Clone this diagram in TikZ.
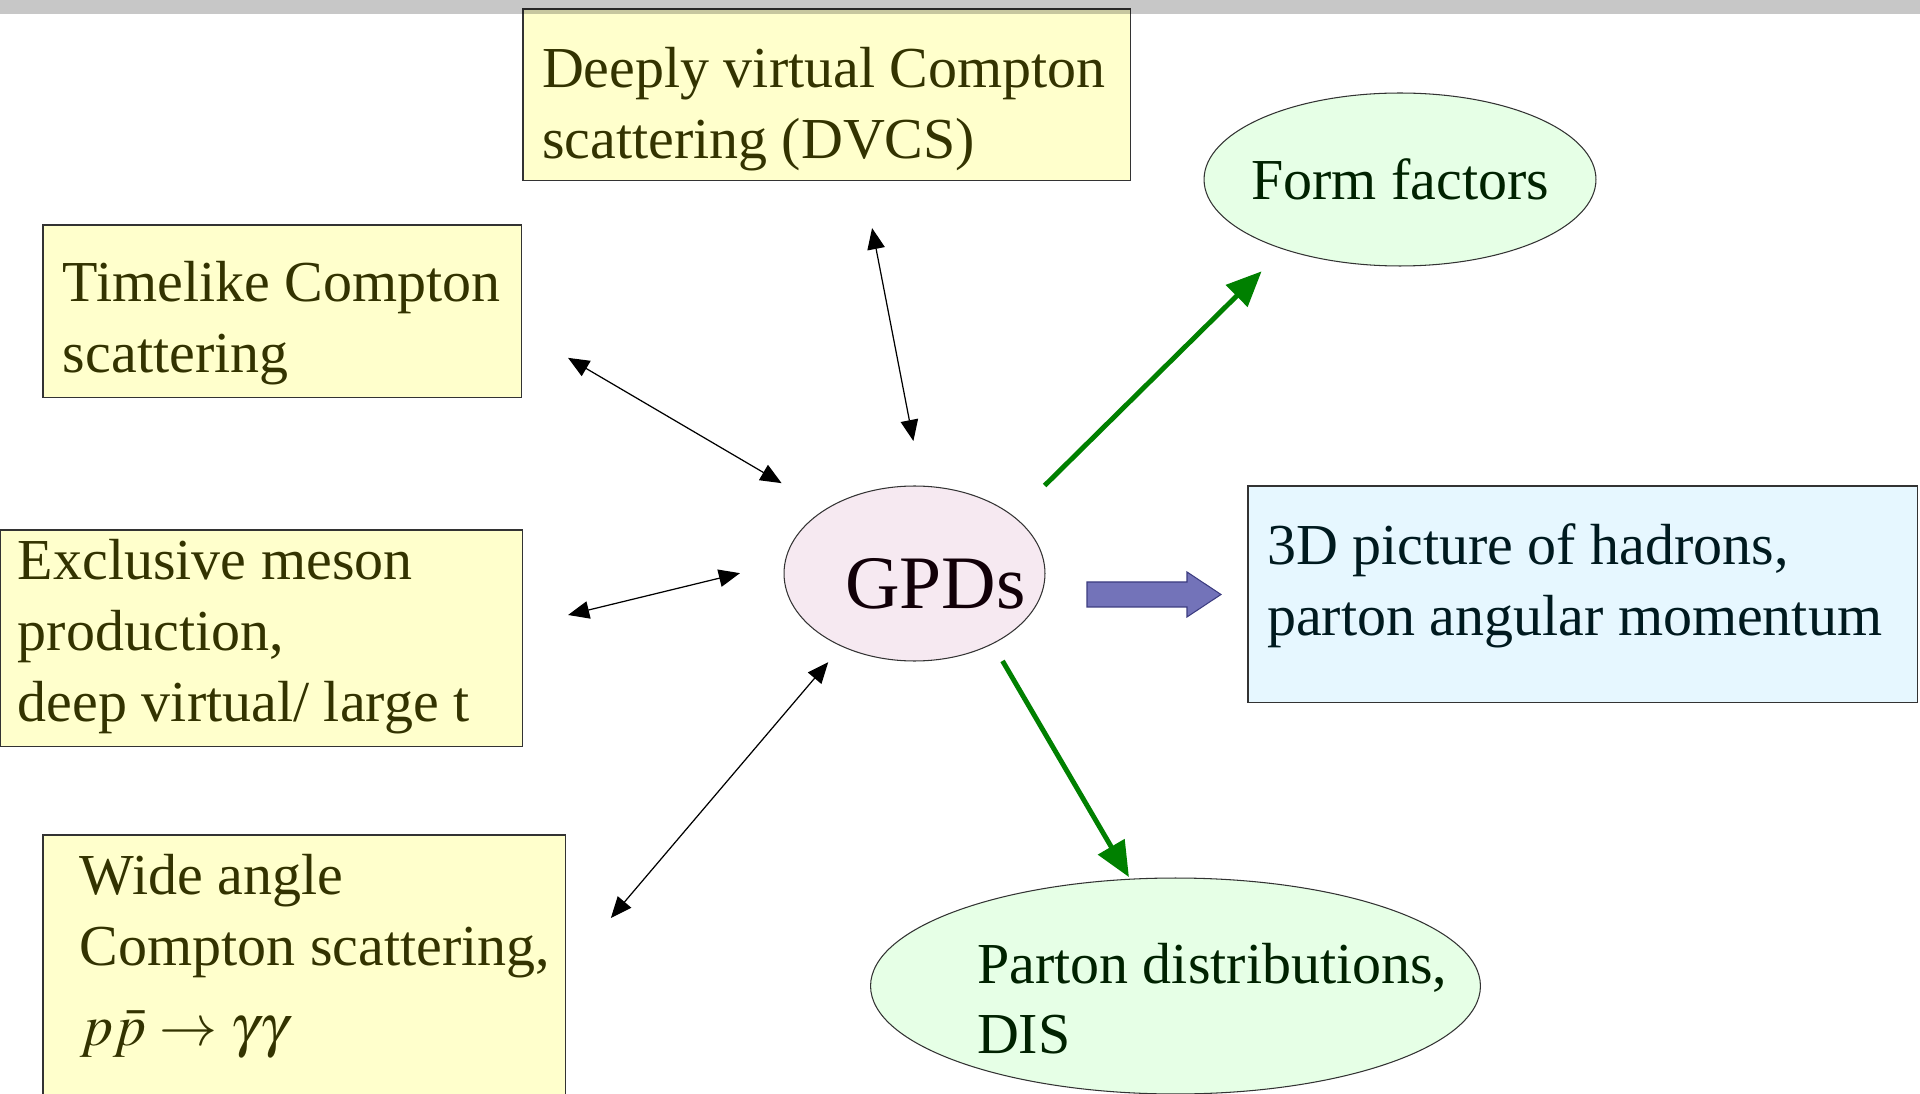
\documentclass[tikz,border=0pt]{standalone}
\usepackage{mathptmx}
\usepackage{fontspec}
\setmainfont{Liberation Serif}
\usepackage{xcolor}
\usepackage{tikz}
\usetikzlibrary{shapes,arrows.meta,positioning,calc}

\hyphenpenalty=10000
\exhyphenpenalty=10000
\hbadness=10000
\hfuzz=200pt

\definecolor{chanfill}{HTML}{FFFFCC}
\definecolor{chantext}{HTML}{333300}
\definecolor{outfill}{HTML}{E6FFE6}
\definecolor{outtext}{HTML}{002200}
\definecolor{corefill}{HTML}{F6E9F1}
\definecolor{coretext}{HTML}{110008}
\definecolor{picfill}{HTML}{E6F7FF}
\definecolor{pictext}{HTML}{001A1F}
\definecolor{fatfill}{HTML}{7373B9}
\definecolor{fatdraw}{HTML}{3C3C80}
\definecolor{arrowgreen}{HTML}{008000}

\begin{document}
\begin{tikzpicture}[
    x=0.02cm, y=-0.02cm,
    channel/.style={rectangle, draw=black!80, line width=0.6pt, fill=chanfill, text=chantext, align=flush left, anchor=north west, inner ysep=0pt, outer sep=0pt, font=\fontsize{33}{40.25}\selectfont},
    insight/.style={rectangle, draw=black!80, line width=0.6pt, fill=picfill, text=pictext, align=flush left, anchor=north west, inner ysep=0pt, outer sep=0pt, font=\fontsize{33}{40.25}\selectfont},
    outcome/.style={ellipse, draw=black!80, line width=0.6pt, fill=outfill, text=outtext, align=flush left, inner sep=0pt, outer sep=0pt, font=\fontsize{33}{40.25}\selectfont},
    core/.style={ellipse, draw=black!80, line width=0.6pt, fill=corefill, text=coretext, align=flush left, inner sep=0pt, outer sep=0pt, font=\fontsize{43}{50}\selectfont},
    twoway/.style={<->, >={Triangle[length=12pt,width=10pt]}, line width=0.7pt},
    yields/.style={->, >={Triangle[length=20pt,width=17pt]}, line width=2.8pt, draw=arrowgreen, fill=arrowgreen},
    fatarrow/.style={draw=fatdraw, fill=fatfill, line width=0.6pt}
]
\useasboundingbox (0,0) rectangle (1920,1094);

% Processes
\node[channel, text width=11.4cm, inner xsep=0.38cm, text height=1.58cm, text depth=1.86cm] (dvcs) at (523,9) {\mbox{Deeply virtual Compton}\\scattering (DVCS)};
\node[channel, text width=8.78cm, inner xsep=0.4cm, text height=1.54cm, text depth=1.92cm] (timelike) at (43,225) {\mbox{Timelike Compton}\\scattering};
\node[channel, text width=9.74cm, inner xsep=0.36cm, text height=1.0cm, text depth=3.34cm] (exclusive) at (0,530) {Exclusive meson\\production,\\deep virtual/ large t};
\node[channel, text width=8.98cm, inner xsep=0.74cm, text height=1.2cm, text depth=4.1cm] (wide) at (43,835) {Wide angle\\\mbox{Compton scattering,}\\[5pt]$p\bar{p}\rightarrow\gamma\gamma$};

% GPDs
\node[core, minimum width=5.22cm, minimum height=3.5cm, text width=2.78cm, text height=1.46cm, text depth=0.04cm] (gpd) at (914.5,573.5) {GPDs};

% Results
\node[outcome, minimum width=7.84cm, minimum height=3.46cm, inner xsep=-1cm] (form) at (1400,179.5) {Form factors};
\node[outcome, minimum width=12.2cm, minimum height=4.32cm, text width=7.94cm, text height=1.2cm, text depth=1.32cm] (parton) at (1175.5,986) {\mbox{Parton distributions,}\\DIS};
\node[insight, text width=12.64cm, inner xsep=0.38cm, text height=1.57cm, text depth=2.77cm] (threed) at (1248,486) {3D picture of hadrons,\\\mbox{parton angular momentum}};

% Connections
\draw[twoway, shorten <=0.96cm, shorten >=0.92cm] ($(dvcs.south)+(36,0)$) -- (gpd.85);
\draw[twoway, shorten <=1.07cm, shorten >=1.03cm] ($(timelike.east)+(0,19.3)$) -- (gpd.144);
\draw[twoway, shorten <=0.93cm, shorten >=0.93cm] ($(exclusive.east)+(0,-12.5)$) -- (gpd.175);
\draw[twoway, shorten <=1.39cm, shorten >=0.42cm] ($(wide.east)+(0,3.5)$) -- (gpd.225);

\draw[yields, shorten <=0.88cm, shorten >=0.63cm] (gpd.30) -- (form.211);
\draw[yields, shorten <=0.4cm, shorten >=0.05cm] (gpd.-42) -- (parton.113);

\draw[fatarrow] ($(threed.west)+(-27,0)$) -- ++(-34,-22.5) -- ++(0,10) -- ++(-100,0) -- ++(0,25) -- ++(100,0) -- ++(0,10) -- cycle;

% top band
\fill[black, opacity=0.22] (0,0) rectangle (1920,14);

\end{tikzpicture}
\end{document}
